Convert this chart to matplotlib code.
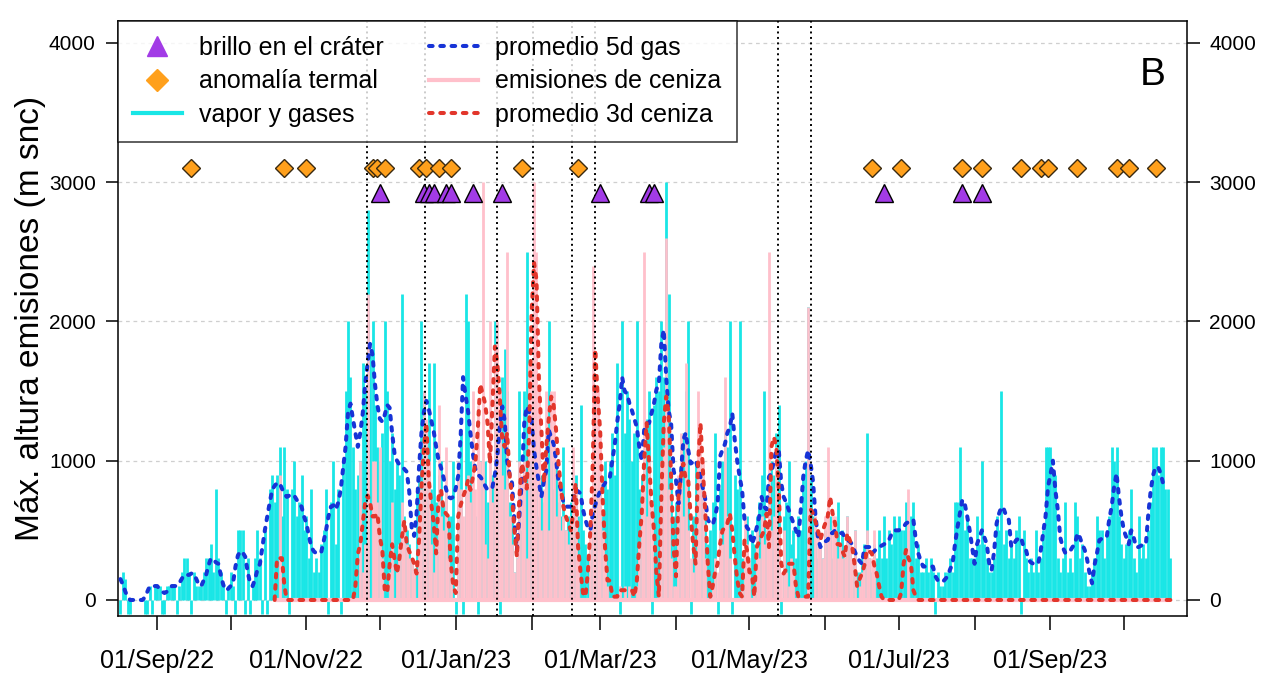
import numpy as np
import pandas as pd
import matplotlib
matplotlib.use("Agg")
import matplotlib.pyplot as plt
import matplotlib.dates as mdates
from matplotlib.lines import Line2D

plt.rcParams['font.family'] = ['Liberation Sans', 'DejaVu Sans']

# ---------------- data (daily values, m above crater) ----------------
gas_start = '2022-08-17'   # first day of the vapour/gas series
ash_start = '2022-10-19'   # first day of the ash series

# vapor y gases (-100 = day without observation)
gas_aug22 = [-100, 200, 150, -100, -100, 0, 0, 0, 0, 0, -100, -100, 100, -100, 100]
gas_sep22 = [100, 100, -100, -100, 100, 100, 100, 100, -100, 100, 200, 300, 300, 200, -100,
             200, 100, 100, 100, 200, 300, 300, 400, 200, 800, 300, 200, 100, -100, 100]
gas_oct22 = [200, 100, -100, 500, 500, 500, -100, 300, -100, 100, 300, 500, 300, -100, 500, -100,
             800, 900, 700, 900, 1100, 600, 1100, 800, -100, 800, 1000, 600, 700, 900, 500]
gas_nov22 = [600, 300, 800, 200, 300, 200, 400, 500, 800, -100, 700, 1000, 400, 800, -100,
             1000, 1500, 2000, 1600, 1100, 800, 900, 1000, 1700, 1500, 2800, 1800, 2000, 1400, 1100]
gas_dec22 = [1000, 1200, 2000, 1500, 1000, 1200, 800, 1000, 900, 2200, 600, 500, 400, 300, 200, 800,
             900, 2000, 1500, 1200, 1700, 800, 1700, 700, 900, 1000, 700, 800, 600, 600, 1000]
gas_jan23 = [-100, 1000, 1200, -100, 2200, 2000, 1000, 800, 600, -100, 1000, 900, 1000, 700, 600, 900,
             2000, 800, -100, 1600, 1800, 1500, 700, 600, 200, 300, 1500, 500, 1500, 2500, 1000]
gas_feb23 = [1000, 1200, 800, 600, 900, 700, 1000, 2000, 1000, 800, 1000, 700, 600, 1100,
             500, 600, 700, 800, 900, 600, 1400, 500, 400, 300, 400, 700, 600, 800]
gas_mar23 = [900, 600, 1000, 800, 1000, 1200, 900, 1700, -100, 2000, 1200, 1500, 1300, 1000, 1200, 2000,
             800, 900, 1000, 1300, 1500, -100, 1400, 1600, 1500, 2000, 1600, 3000, 2200, 900, 600]
gas_apr23 = [700, 800, 600, 1200, 1500, 2000, -100, 600, 1000, 900, 1000, 800, 600, 400, 500,
             700, 1200, -100, 800, 1000, 1200, 1100, 2000, -100, 900, 800, 2000, 300, 200, 600]
gas_may23 = [300, 500, 400, 600, 700, 900, 1500, 500, 800, 1000, 900, 1200, 1400, -100, 600, 700,
             1000, 400, 500, 300, 600, 500, 900, 1000, 2100, 900, 600, 400, 300, 400, 300]
gas_jun23 = [500, 400, 600, 300, 500, 700, 400, 500, 300, 600, 400, 300, 500, 200, 200,
             300, 400, 1200, 300, 200, 400, 300, 500, 300, 600, 300, 500, 400, 600, 500]
gas_jul23 = [600, 500, 500, 700, 500, 600, 700, 300, 400, 200, 200, 300, 200, 300, 200, -100,
             200, 100, 100, 200, 200, 300, 200, 700, 700, 1100, 700, 500, 600, 300, 300]
gas_aug23 = [300, 600, 400, 1000, 400, 300, 200, 200, 300, 600, 500, 1500, 400, 500, 300, 400,
             300, 500, 600, -100, 500, 300, 200, 300, 200, 500, 200, 300, 500, 1100, 1100]
gas_sep23 = [1100, 900, 900, 300, 200, 300, 700, 200, 300, 200, 700, 600, 300, 400, 200,
             100, 100, 200, 300, 600, 500, 500, 300, 500, 600, 1100, 1000, 1100, 600, 400]
gas_oct23 = [300, 400, 500, 800, 300, 200, 600, 300, 400, 300, 500, 700, 1100, 1100, 900,
             1100, 1100, 800, 800, 300]

# promedio 5d gas
avg5_aug22 = [150, 110, 60, 20, 0, 0, 0, 0, 0, 0, 20, 60, 100, 100, 100]
avg5_sep22 = [100, 80, 60, 50, 60, 80, 100, 100, 100, 120, 150, 180, 180, 180, 190,
              190, 150, 110, 100, 140, 180, 250, 300, 290, 270, 260, 180, 110, 70, 80]
avg5_oct22 = [100, 120, 240, 320, 350, 340, 310, 200, 120, 100, 150, 220, 260, 380, 500, 600,
              700, 790, 820, 840, 840, 800, 760, 740, 750, 760, 750, 720, 690, 670, 600]
avg5_nov22 = [550, 460, 380, 350, 335, 335, 340, 420, 500, 600, 670, 680, 650, 700, 790,
              950, 1100, 1350, 1410, 1300, 1200, 1100, 1200, 1340, 1550, 1700, 1840, 1760, 1550, 1400]
avg5_dec22 = [1300, 1280, 1330, 1400, 1380, 1200, 1050, 1000, 970, 960, 940, 920, 780, 520, 460, 620,
              950, 1200, 1350, 1430, 1370, 1290, 1210, 1100, 1000, 950, 880, 800, 740, 730, 740]
avg5_jan23 = [800, 890, 1170, 1600, 1470, 1360, 1200, 1050, 940, 900, 885, 860, 820, 790, 800, 810,
              900, 1030, 1250, 1390, 1290, 1000, 900, 840, 550, 360, 600, 860, 1270, 1390, 1350]
avg5_feb23 = [1290, 1076, 950, 840, 740, 850, 930, 1220, 1170, 1120, 1005, 850, 790, 700,
              670, 670, 670, 720, 790, 780, 765, 650, 575, 520, 500, 620, 680, 740]
avg5_mar23 = [780, 810, 840, 860, 885, 1000, 1120, 1280, 1410, 1600, 1500, 1480, 1410, 1360, 1300, 1240,
              1100, 1000, 1220, 1270, 1270, 1340, 1410, 1510, 1555, 1840, 1940, 1600, 1360, 1270, 930]
avg5_apr23 = [860, 690, 900, 1150, 1200, 1076, 980, 990, 1005, 950, 885, 800, 720, 575, 550,
              540, 600, 690, 1030, 1080, 1120, 1200, 1240, 1340, 1150, 1000, 885, 790, 575, 520]
avg5_may23 = [500, 400, 450, 520, 600, 740, 670, 650, 885, 910, 1000, 1076, 1076, 840, 740, 700,
              650, 600, 550, 500, 450, 650, 885, 1000, 1076, 980, 850, 600, 450, 380, 400]
avg5_jun23 = [420, 430, 480, 480, 500, 490, 480, 480, 450, 430, 420, 400, 350, 310, 280,
              260, 380, 380, 380, 335, 350, 370, 380, 390, 400, 410, 430, 470, 500, 500]
avg5_jul23 = [500, 510, 525, 550, 560, 575, 575, 430, 335, 280, 240, 240, 240, 240, 240, 170,
              140, 130, 130, 150, 170, 220, 260, 400, 520, 620, 720, 690, 600, 500, 380]
avg5_aug23 = [260, 400, 450, 500, 450, 400, 260, 215, 350, 550, 620, 670, 650, 600, 575, 380,
              400, 430, 440, 450, 380, 360, 290, 270, 260, 260, 260, 350, 480, 600, 810]
avg5_sep23 = [900, 1000, 790, 650, 450, 380, 340, 335, 350, 380, 400, 480, 450, 400, 360,
              290, 190, 120, 250, 335, 430, 440, 450, 450, 575, 670, 810, 910, 740, 600]
avg5_oct23 = [500, 450, 400, 500, 450, 380, 380, 390, 400, 400, 620, 790, 900, 955, 955,
              910, 840, 800, None, None]

# emisiones de ceniza
ash_oct22 = [0, 0, 900, 0, 0, 0, 0, 0, 0, 0, 0, 0, 0]
ash_nov22 = [0, 0, 0, 0, 0, 0, 0, 0, 0, 0, 0, 0, 0, 0, 0,
             0, 0, 0, 0, 0, 0, 0, 1000, 200, 400, 2200, 0, 1000, 1000, 700]
ash_dec22 = [1100, 300, 0, 0, 200, 700, 0, 200, 400, 700, 500, 400, 300, 300, 200, 0,
             600, 800, 1500, 1300, 1000, 400, 200, 400, 1400, 600, 500, 1100, 300, 200, 0]
ash_jan23 = [0, 1000, 800, 600, 800, 900, 700, 1500, 800, 1400, 1000, 3000, 400, 300, 2000, 700,
             1800, 2000, 1500, 900, 800, 2500, 600, 400, 200, 300, 1000, 900, 1000, 300, 1700]
ash_feb23 = [1700, 3000, 2500, 1500, 500, 800, 1500, 500, 1500, 1500, 600, 900, 500, 600,
             500, 400, 600, 1100, 800, 300, 0, 0, 0, 0, 500, 2400, 1500, 1500]
ash_mar23 = [1200, 500, 300, 100, 0, 0, 0, 0, 100, 0, 100, 0, 100, 0, 0, 100,
             400, 800, 2500, 600, 1000, 700, 0, 0, 100, 1000, 1100, 2600, 800, 300, 100]
ash_apr23 = [100, 900, 1200, 600, 1700, 500, 300, 200, 300, 1500, 1200, 1000, 300, 0, 0,
             100, 300, 200, 500, 400, 1600, 600, 300, 0, 0, 0, 0, 100, 600, 400]
ash_may23 = [300, 0, 100, 500, 300, 600, 400, 500, 2500, 500, 600, 1100, 500, 200, 500, 200,
             100, 300, 200, 0, 0, 0, 0, 0, 2100, 0, 0, 600, 500, 400, 300]
ash_jun23 = [600, 1100, 500, 600, 600, 300, 400, 300, 300, 600, 400, 300, 500, 0, 100,
             200, 300, 500, 300, 300, 500, 0, 0, 0, 0, 0, 0, 0, 0, 0]
ash_jul23 = [0, 0, 0, 0, 800, 0, 0, 0, 0, 0, 0, 0, 0, 0, 0, 0,
             0, 0, 0, 0, 0, 0, 0, 0, 0, 0, 0, 0, 0, 0, 0]
ash_aug23 = [0] * 31
ash_sep23 = [0] * 30
ash_oct23 = [0] * 20

# promedio 3d ceniza
avg3_oct22 = [0, 300, 300, 300, 100, 0, 0, 0, 0, 0, 0, 0, 0]
avg3_nov22 = [0, 0, 0, 0, 0, 0, 0, 0, 0, 0, 0, 0, 0, 0, 0,
              0, 0, 0, 0, 0, 100, 330, 400, 550, 700, 750, 700, 600, 600, 620]
avg3_dec22 = [450, 360, 70, 50, 260, 400, 290, 190, 300, 450, 570, 400, 350, 310, 260, 190,
              430, 810, 1100, 1270, 860, 690, 550, 335, 740, 790, 650, 620, 600, 260, 100]
avg3_jan23 = [50, 600, 680, 740, 790, 860, 790, 880, 980, 1220, 1550, 1480, 1410, 1270, 980, 1400,
              1820, 1700, 1460, 1150, 1100, 1200, 900, 740, 500, 310, 740, 980, 900, 800, 1200]
avg3_feb23 = [2060, 2420, 2300, 1580, 1220, 840, 1100, 1300, 1460, 1400, 1220, 980, 800, 670,
              600, 550, 500, 620, 840, 380, 200, 50, 24, 200, 500, 980, 1800, 1460]
avg3_mar23 = [1220, 740, 380, 140, 140, 24, 24, 24, 70, 70, 70, 70, 70, 70, 24, 140,
              400, 620, 1000, 1270, 980, 700, 500, 190, 24, 740, 1270, 1460, 1340, 885, 380]
avg3_apr23 = [170, 740, 885, 980, 860, 860, 600, 400, 260, 980, 1270, 930, 620, 260, 24,
              100, 200, 260, 400, 500, 520, 550, 620, 500, 310, 150, 50, 24, 430, 360]
avg3_may23 = [200, 190, 24, 380, 420, 460, 500, 620, 380, 1100, 1170, 1100, 790, 260, 190, 220,
              260, 260, 260, 100, 24, 24, 24, 24, 24, 650, 620, 560, 500, 430, 500]
avg3_jun23 = [550, 600, 740, 620, 550, 400, 400, 350, 310, 480, 430, 380, 250, 100, 150,
              190, 250, 360, 350, 335, 250, 190, 100, 24, 0, 0, 0, 0, 0, 0]
avg3_jul23 = [0, 50, 260, 360, 300, 260, 70, 24, 0, 0, 0, 0, 0, 0, 0, 0,
              0, 0, 0, 0, 0, 0, 0, 0, 0, 0, 0, 0, 0, 0, 0]
avg3_aug23 = [0] * 31
avg3_sep23 = [0] * 30
avg3_oct23 = [0] * 20

# events
glow_dates = ['2022-12-01', '2022-12-19', '2022-12-21', '2022-12-23', '2022-12-28', '2022-12-30',
              '2023-01-08', '2023-01-20', '2023-03-01', '2023-03-21', '2023-03-23',
              '2023-06-25', '2023-07-27', '2023-08-04']
glow_level = 2920
thermal_dates = ['2022-09-15', '2022-10-23', '2022-11-01', '2022-11-28', '2022-11-30', '2022-12-03',
                 '2022-12-17', '2022-12-20', '2022-12-25', '2022-12-30', '2023-01-28', '2023-02-20',
                 '2023-06-20', '2023-07-02', '2023-07-27', '2023-08-04', '2023-08-20', '2023-08-28',
                 '2023-08-31', '2023-09-12', '2023-09-28', '2023-10-03', '2023-10-14']
thermal_level = 3100
event_lines = ['2022-11-25 17:00', '2022-12-19 12:00', '2023-01-17 17:00', '2023-02-01 12:00',
               '2023-02-17 12:00', '2023-02-26 19:00', '2023-05-12 12:00', '2023-05-26 05:00']

y_ticks = [0, 1000, 2000, 3000, 4000]

# ---------------- assemble ----------------
gas = np.array(gas_aug22 + gas_sep22 + gas_oct22 + gas_nov22 + gas_dec22 + gas_jan23 + gas_feb23 +
               gas_mar23 + gas_apr23 + gas_may23 + gas_jun23 + gas_jul23 + gas_aug23 + gas_sep23 +
               gas_oct23, dtype=float)
avg5 = np.array(avg5_aug22 + avg5_sep22 + avg5_oct22 + avg5_nov22 + avg5_dec22 + avg5_jan23 +
                avg5_feb23 + avg5_mar23 + avg5_apr23 + avg5_may23 + avg5_jun23 + avg5_jul23 +
                avg5_aug23 + avg5_sep23 + avg5_oct23, dtype=float)
ash = np.array(ash_oct22 + ash_nov22 + ash_dec22 + ash_jan23 + ash_feb23 + ash_mar23 + ash_apr23 +
               ash_may23 + ash_jun23 + ash_jul23 + ash_aug23 + ash_sep23 + ash_oct23, dtype=float)
avg3 = np.array(avg3_oct22 + avg3_nov22 + avg3_dec22 + avg3_jan23 + avg3_feb23 + avg3_mar23 +
                avg3_apr23 + avg3_may23 + avg3_jun23 + avg3_jul23 + avg3_aug23 + avg3_sep23 +
                avg3_oct23, dtype=float)

gas_days = pd.date_range(gas_start, periods=len(gas), freq='D')
ash_days = pd.date_range(ash_start, periods=len(ash), freq='D')

C_GAS = '#19E6E6'
C_ASH = '#FFC0CB'
C_AVG5 = '#1733D6'
C_AVG3 = '#E2362B'
C_GLOW = '#A23BE6'
C_THERM = '#FFA01C'
DOT = (0, (0.9, 1.9))

# ---------------- figure ----------------
fig = plt.figure(figsize=(12.76, 6.81), dpi=100)
ax = fig.add_axes([118 / 1276, 1 - 616 / 681, (1187 - 118) / 1276, (616 - 21) / 681])

for yv in y_ticks:
    ax.axhline(yv, color='#CFCFCF', lw=0.9, ls=(0, (3, 3)), zorder=0)

ax.vlines(gas_days, 0, gas, colors=C_GAS, lw=2.0, zorder=2)
ax.plot(ash_days, np.zeros(len(ash_days)), color=C_ASH, lw=3.0, solid_capstyle='butt', zorder=2.5)
ax.vlines(ash_days, 0, ash, colors=C_ASH, lw=2.0, zorder=3)

ax.plot(gas_days, avg5, color=C_AVG5, lw=2.9, ls=DOT, dash_capstyle='round', zorder=4)
ax.plot(ash_days, avg3, color=C_AVG3, lw=2.9, ls=DOT, dash_capstyle='round', zorder=5)

for t in event_lines:
    ax.axvline(pd.Timestamp(t), color='black', lw=1.4, ls=(0, (1, 1.8)), zorder=6)

g_dates = pd.to_datetime(glow_dates)
t_dates = pd.to_datetime(thermal_dates)
ax.plot(g_dates, [glow_level] * len(g_dates), ls='none', marker='^', ms=13.5,
        mfc=C_GLOW, mec='black', mew=1.0, zorder=7)
ax.plot(t_dates, [thermal_level] * len(t_dates), ls='none', marker='D', ms=9.3,
        mfc=C_THERM, mec='#3A2A10', mew=1.0, zorder=7)

# axes limits
x0 = pd.Timestamp('2022-09-01') - pd.Timedelta(days=16.0)
x1 = pd.Timestamp('2022-09-01') + pd.Timedelta(days=420.8)
ax.set_xlim(x0, x1)
ax.set_ylim(-115, 4157)

ax.xaxis.set_major_locator(mdates.MonthLocator(bymonth=[1, 3, 5, 7, 9, 11]))
ax.xaxis.set_major_formatter(mdates.DateFormatter('%d/%b/%y'))
ax.xaxis.set_minor_locator(mdates.MonthLocator())
ax.tick_params(axis='x', which='both', length=10, width=1.1, direction='out', pad=14,
               labelsize=18)
ax.set_yticks(y_ticks)
ax.tick_params(axis='y', which='both', length=9, width=1.1, direction='out', pad=7,
               labelsize=15, right=True, labelright=True)
for s in ax.spines.values():
    s.set_linewidth(1.1)

ax.set_ylabel('Máx. altura emisiones (m snc)', fontsize=24, labelpad=2)

ax.text(0.968, 0.909, 'B', transform=ax.transAxes, fontsize=28, ha='center', va='center')

handles = [
    Line2D([], [], ls='none', marker='^', ms=15, mfc=C_GLOW, mec=C_GLOW),
    Line2D([], [], ls='none', marker='D', ms=11, mfc=C_THERM, mec=C_THERM),
    Line2D([], [], color=C_GAS, lw=3),
    Line2D([], [], color=C_AVG5, lw=2.9, ls=DOT, dash_capstyle='round'),
    Line2D([], [], color=C_ASH, lw=3),
    Line2D([], [], color=C_AVG3, lw=2.9, ls=DOT, dash_capstyle='round'),
]
labels = ['brillo en el cráter', 'anomalía termal', 'vapor y gases',
          'promedio 5d gas', 'emisiones de ceniza', 'promedio 3d ceniza']
leg = ax.legend(handles, labels, loc='upper left', bbox_to_anchor=(0, 1), ncol=2,
                fontsize=18, frameon=True, fancybox=False, edgecolor='black',
                borderaxespad=0, borderpad=0.6, handlelength=1.95, handletextpad=0.7,
                columnspacing=1.8, labelspacing=0.38)
leg.get_frame().set_linewidth(1.1)
leg.set_zorder(10)

fig.savefig('out.png', dpi=100)
